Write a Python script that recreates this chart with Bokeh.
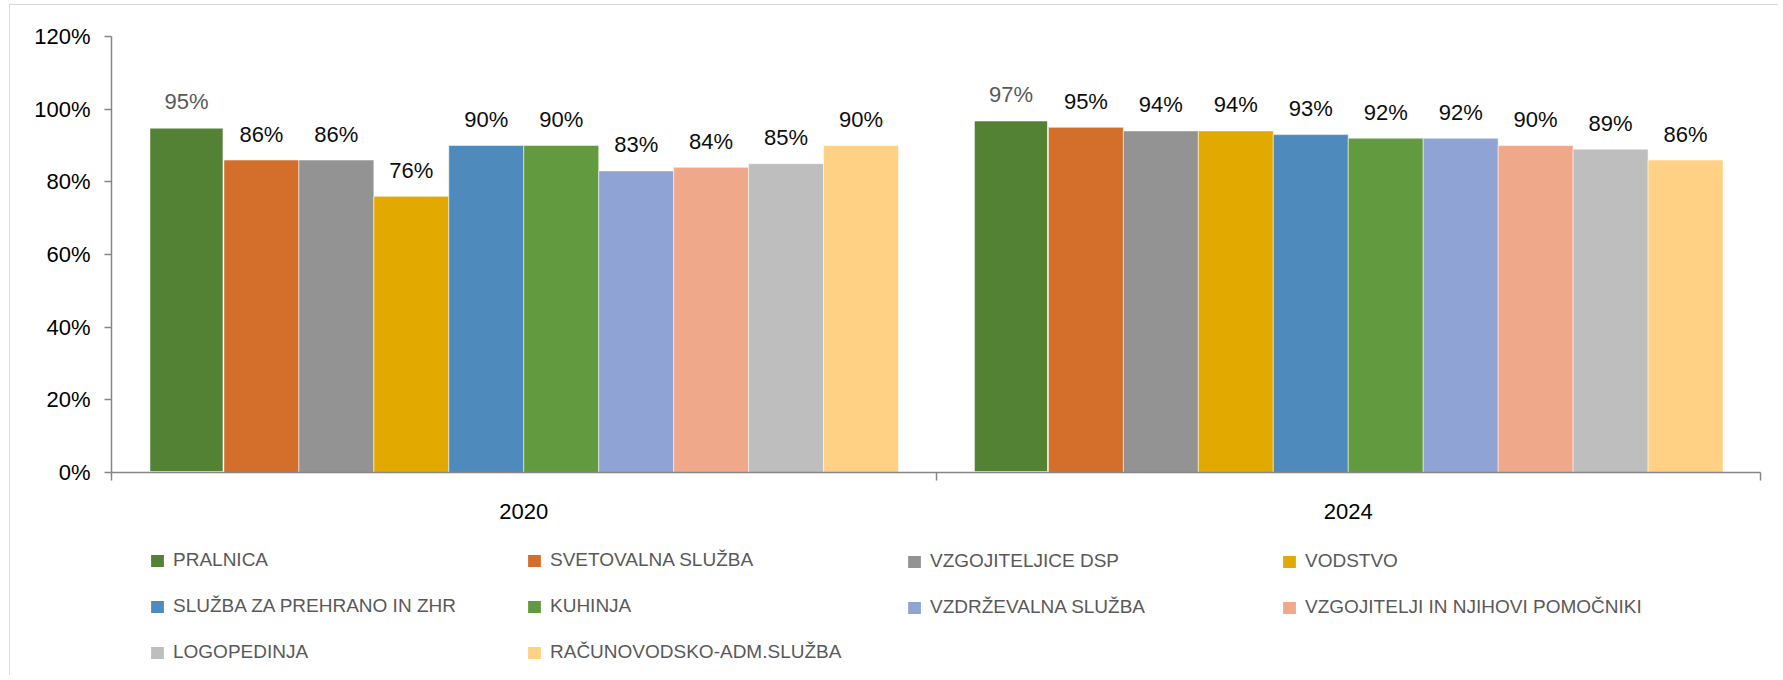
from bokeh.plotting import figure
from bokeh.layouts import column
from bokeh.models import (Range1d, FixedTicker, NumeralTickFormatter, Legend, LegendItem,
                          ColumnDataSource, LabelSet)
from bokeh.core.properties import value
from bokeh.embed import file_html
from bokeh.resources import INLINE

years = ["2020", "2024"]
series = ["PRALNICA", "SVETOVALNA SLUŽBA", "VZGOJITELJICE DSP", "VODSTVO",
          "SLUŽBA ZA PREHRANO IN ZHR", "KUHINJA", "VZDRŽEVALNA SLUŽBA",
          "VZGOJITELJI IN NJIHOVI POMOČNIKI", "LOGOPEDINJA", "RAČUNOVODSKO-ADM.SLUŽBA"]
values_2020 = [0.95, 0.86, 0.86, 0.76, 0.90, 0.90, 0.83, 0.84, 0.85, 0.90]
values_2024 = [0.97, 0.95, 0.94, 0.94, 0.93, 0.92, 0.92, 0.90, 0.89, 0.86]
colors = ["#548235", "#D46F2B", "#939393", "#E2AA00", "#4F8ABD",
          "#629A3F", "#8FA3D4", "#F0A88A", "#BEBEBE", "#FED185"]
y_ticks = [0, 0.2, 0.4, 0.6, 0.8, 1.0, 1.2]

FONT = "Liberation Sans"
n = len(series)
slot = 1.0 / (n + 1)  # Excel gap width 100%
W = 1768

p = figure(width=W, height=530, output_backend="svg", toolbar_location=None,
           x_range=Range1d(0, len(years)), y_range=Range1d(0, 1.2),
           min_border_left=101, min_border_right=18, min_border_top=31, min_border_bottom=63)
p.outline_line_color = None
p.xgrid.visible = False
p.ygrid.visible = False

for i, name in enumerate(series):
    xs = [k + (i + 1) * slot for k in range(len(years))]
    tops = [values_2020[i], values_2024[i]]
    src = ColumnDataSource(dict(x=xs, top=tops,
                                lbl=[f"{round(t * 100)}%" for t in tops]))
    if i == 0:
        p.vbar(x="x", top="top", width=slot, source=src, fill_color=colors[i],
               line_color="white", line_width=2.5)
    else:
        p.vbar(x="x", top="top", width=slot, source=src, fill_color=colors[i],
               line_color="white", line_width=1, line_alpha=0.5)
    labels = LabelSet(x="x", y="top", text="lbl", source=src, y_offset=26,
                      text_align="center", text_baseline="middle",
                      text_font=value(FONT), text_font_size="22px",
                      text_color="#595959" if i == 0 else "#0d0d0d")
    p.add_layout(labels)

# y axis
yax = p.yaxis[0]
yax.ticker = FixedTicker(ticks=y_ticks)
yax.formatter = NumeralTickFormatter(format="0%")
yax.axis_line_color = "#868686"
yax.axis_line_width = 1.5
yax.major_tick_line_color = "#868686"
yax.major_tick_line_width = 1.5
yax.major_tick_out = 7
yax.major_tick_in = 0
yax.minor_tick_line_color = None
yax.major_label_text_font = FONT
yax.major_label_text_font_size = "22px"
yax.major_label_text_color = "#000000"
yax.major_label_standoff = 14

# x axis: labels at category centres, tick marks at boundaries
xax = p.xaxis[0]
xax.ticker = FixedTicker(ticks=[k + 0.5 for k in range(len(years))],
                         minor_ticks=list(range(len(years) + 1)))
xax.major_label_overrides = {k + 0.5: y for k, y in enumerate(years)}
xax.axis_line_color = "#868686"
xax.axis_line_width = 1.5
xax.major_tick_out = 0
xax.major_tick_in = 0
xax.major_tick_line_color = None
xax.minor_tick_out = 8
xax.minor_tick_in = 0
xax.minor_tick_line_color = "#868686"
xax.minor_tick_line_width = 1.5
xax.major_label_text_font = FONT
xax.major_label_text_font_size = "22px"
xax.major_label_text_color = "#000000"
xax.major_label_standoff = 23

# legend panel below the chart: 4 columns x 3 rows, row-major order
LH = 140
pl = figure(width=W, height=LH, output_backend="svg", toolbar_location=None,
            x_range=Range1d(0, W), y_range=Range1d(0, LH),
            x_axis_type=None, y_axis_type=None,
            min_border_left=0, min_border_right=0, min_border_top=0, min_border_bottom=0)
pl.outline_line_color = None
pl.xgrid.visible = False
pl.ygrid.visible = False

# legend swatches (one point placed far outside the visible range)
dummies = [pl.vbar(x=[-10000], top=[0], width=1, fill_color=c, line_color=None) for c in colors]
ncols = 4
ROW = 45
col_x = [38, 415, 795, 1170]
for c in range(ncols):
    idx = list(range(c, n, ncols))
    items = [LegendItem(label=series[i], renderers=[dummies[i]]) for i in idx]
    nrows = (n + ncols - 1) // ncols
    leg = Legend(items=items, location=(col_x[c], 12 + ROW * (nrows - len(idx))),
                 orientation="vertical",
                 padding=0, margin=0, spacing=24, label_height=21,
                 glyph_height=15, glyph_width=16, label_standoff=8,
                 border_line_color=None, background_fill_alpha=0,
                 label_text_font=FONT, label_text_font_size="19px",
                 label_text_color="#595959")
    pl.add_layout(leg)

layout = column(p, pl, spacing=0)
layout.styles = {"border-left": "1px solid #D9D9D9", "border-top": "1px solid #D9D9D9",
                 "margin-left": "9px", "margin-top": "4px"}

open("out.html", "w").write(file_html(layout, INLINE))
